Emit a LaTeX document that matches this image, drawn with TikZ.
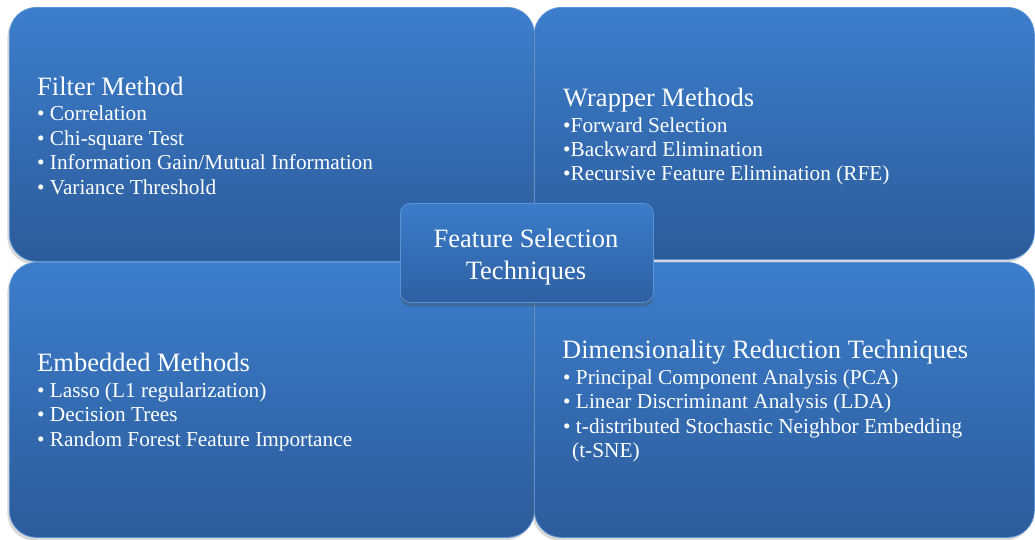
\documentclass[tikz,border=0pt]{standalone}
\usepackage{fontspec}
\setmainfont{Liberation Serif}
\newfontfamily\tms{Liberation Serif}
\usetikzlibrary{shadows}
\definecolor{topc}{HTML}{3C7ECC}
\definecolor{botc}{HTML}{2C5B9A}
\definecolor{edgec}{HTML}{5A92D5}
\definecolor{ctop}{HTML}{3B7CCA}
\definecolor{cbot}{HTML}{2E60A2}
\begin{document}
\begin{tikzpicture}[x=1pt,y=-1pt,
  quad/.style={rounded corners=27pt, top color=topc, bottom color=botc, draw=edgec, line width=0.8pt,
    anchor=north west, inner sep=0pt,
    drop shadow={shadow xshift=-2pt,shadow yshift=-3pt,opacity=0.25,fill=black!60}},
  centerbox/.style={rounded corners=10pt, top color=ctop, bottom color=cbot, draw=edgec, line width=0.8pt,
    anchor=north west, inner sep=0pt,
    drop shadow={shadow xshift=0pt,shadow yshift=-4pt,opacity=0.35,fill=black!70}},
  title/.style={anchor=base west, inner sep=0pt, text=white, font=\tms\fontsize{26.5}{30}\selectfont},
  item/.style={anchor=base west, inner sep=0pt, text=white, font=\tms\fontsize{21.3}{24}\selectfont},
  ctext/.style={anchor=base, inner sep=0pt, text=white, font=\tms\fontsize{26.5}{30}\selectfont}]
\useasboundingbox (0,0) rectangle (1035,539);
\fill[white] (0,0) rectangle (1035,539);

\node[quad, minimum width=525pt, minimum height=254pt] (tl) at (9,7) {};
\node[quad, minimum width=500pt, minimum height=252pt] (tr) at (534,7) {};
\node[quad, minimum width=525pt, minimum height=275pt] (bl) at (9,262) {};
\node[quad, minimum width=500pt, minimum height=275pt] (br) at (534,262) {};

% Filter
\node[title] (tlt) at (37,95) {Filter Method};
\node[item] (tl1) at (37,120) {• Correlation};
\node[item] (tl2) at (37,145) {• Chi-square Test};
\node[item] (tl3) at (37,169.5) {• Information Gain/Mutual Information};
\node[item] (tl4) at (37,194) {• Variance Threshold};

% Wrapper
\node[title] (trt) at (563,106) {Wrapper Methods};
\node[item] (tr1) at (563,132) {•Forward Selection};
\node[item] (tr2) at (563,156) {•Backward Elimination};
\node[item] (tr3) at (563,180) {•Recursive Feature Elimination (RFE)};

% Embedded
\node[title] (blt) at (37,371) {Embedded Methods};
\node[item] (bl1) at (37,397) {• Lasso (L1 regularization)};
\node[item] (bl2) at (37,421.5) {• Decision Trees};
\node[item] (bl3) at (37,446) {• Random Forest Feature Importance};

% Dimensionality
\node[title] (brt) at (562,358) {Dimensionality Reduction Techniques};
\node[item] (br1) at (563,384) {• Principal Component Analysis (PCA)};
\node[item] (br2) at (563,408.5) {• Linear Discriminant Analysis (LDA)};
\node[item] (br3) at (563,433) {• t-distributed Stochastic Neighbor Embedding};
\node[item] (br4) at (572,457) {(t-SNE)};

% Center
\node[centerbox, minimum width=253pt, minimum height=99pt] (c) at (400,203) {};
\node[ctext] (c1) at (526,247) {Feature Selection};
\node[ctext] (c2) at (526,279) {Techniques};
\end{tikzpicture}
\end{document}
